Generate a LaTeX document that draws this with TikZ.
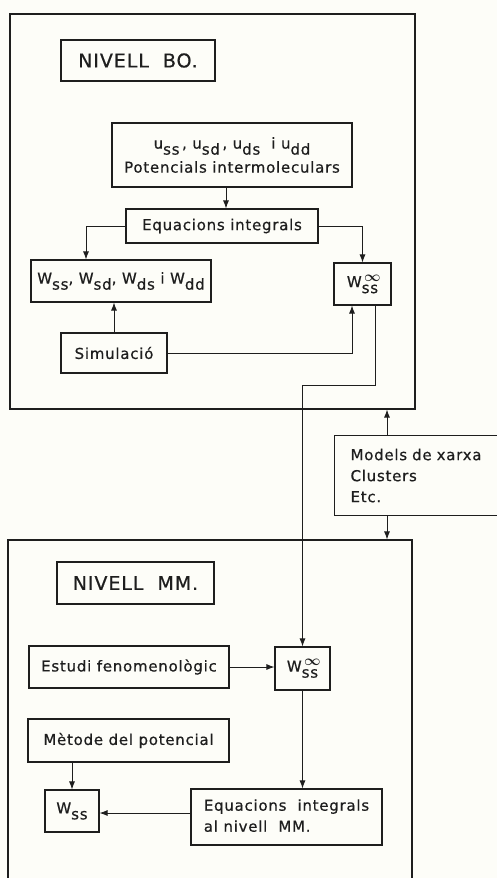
\documentclass[tikz,border=0pt]{standalone}
\usepackage{fontspec}
\setmainfont[LetterSpace=5,FakeBold=0.6]{DejaVu Sans}
\usetikzlibrary{arrows.meta,calc}
\usepackage{amsmath,amssymb}
\definecolor{paper}{RGB}{253,253,248}
\definecolor{ink}{RGB}{30,30,30}
\newcommand{\sbs}[1]{\raisebox{-6pt}{#1}}
\newcommand{\winf}{W\rlap{\raisebox{6pt}{\,$\boldsymbol{\infty}$}}\raisebox{-6pt}{ss}}
\begin{document}
\begin{tikzpicture}[x=1pt,y=-1pt,line width=1.1pt,draw=ink,
  box/.style={draw=ink,rectangle,inner sep=0pt,text=ink,font=\fontsize{15}{21}\selectfont,align=center},
  frame/.style={draw=ink,rectangle,inner sep=0pt},
  arr/.style={draw=ink,line width=0.9pt,-{Latex[length=8pt,width=6pt]}}]
\useasboundingbox (0,0) rectangle (497,878);
\fill[paper] (0,0) rectangle (497,878);
\clip (0,0) rectangle (497,878);
% outer frames
\node[frame,minimum width=405pt,minimum height=395pt] (A) at (212.5,211.5) {};
\node[frame,minimum width=404pt,minimum height=342pt] (B) at (210,711) {};
% level BO
\node[box,minimum width=154pt,minimum height=41pt,font=\fontsize{19}{22}\selectfont] (bo) at (138,60.5) {NIVELL\ \ BO.};
\node[box,minimum width=240pt,minimum height=64pt] (u) at (232,155)
  {u\sbs{ss}\,, u\sbs{sd}\,, u\sbs{ds}\ \ i u\sbs{dd}\\[3pt]Potencials\ intermoleculars};
\node[box,minimum width=192pt,minimum height=34pt] (eq) at (222,226) {Equacions\ integrals};
\node[box,minimum width=180pt,minimum height=42pt] (W) at (121,281)
  {W\sbs{ss}, W\sbs{sd}, W\sbs{ds} i W\sbs{dd}};
\node[box,minimum width=57pt,minimum height=42pt] (Winf) at (362.5,284) {\winf};
\node[box,minimum width=106pt,minimum height=40pt] (sim) at (114,353) {Simulació};
% models
\node[box,anchor=north west,minimum height=80pt,text width=150pt,inner xsep=16pt,align=left] (M) at (334,435)
  {Models de xarxa\\Clusters\\Etc.};
% level MM
\node[box,minimum width=157pt,minimum height=42pt,font=\fontsize{19}{22}\selectfont] (mm) at (135.5,583) {NIVELL\ \ MM.};
\node[box,minimum width=200pt,minimum height=42pt] (est) at (129,667) {Estudi\ fenomenològic};
\node[box,minimum width=55pt,minimum height=43pt] (Winf2) at (302.5,668.5) {\winf};
\node[box,minimum width=201pt,minimum height=43pt] (met) at (128.5,740.5) {Mètode\ del\ potencial};
\node[box,minimum width=54pt,minimum height=42pt] (Wss) at (72,811) {W\sbs{ss}};
\node[box,minimum width=191pt,minimum height=56pt] (eqmm) at (286.5,817)
  {\begin{tabular}{@{}l@{}}Equacions\ \ integrals\\al nivell\ \ MM.\end{tabular}};
% connectors
\draw[arr] ([xshift=-6pt]u.south) -- ([xshift=-6pt]u.south |- eq.north);
\draw[arr] (eq.west) -| ([xshift=-35pt]W.north);
\draw[arr] (eq.east) -| (Winf.north);
\draw[arr] (sim.north) -- (sim.north |- W.south);
\draw[arr] (sim.east) -| ([xshift=-10.5pt]Winf.south);
\draw[arr] ([xshift=12.5pt]Winf.south) -- ++(0,80) -| (Winf2.north);
\draw[arr] ([xshift=53pt]M.north west) -- ([xshift=53pt]M.north west |- A.south);
\draw[arr] ([xshift=53pt]M.south west) -- ([xshift=53pt]M.south west |- B.north);
\draw[arr] (est.east) -- (est.east -| Winf2.west);
\draw[arr] (Winf2.south) -- (Winf2.south |- eqmm.north);
\draw[arr] (met.south -| Wss.north) -- (Wss.north);
\draw[arr] ([yshift=4pt]eqmm.west) -- ([yshift=4pt]eqmm.west -| Wss.east);
\end{tikzpicture}
\end{document}
